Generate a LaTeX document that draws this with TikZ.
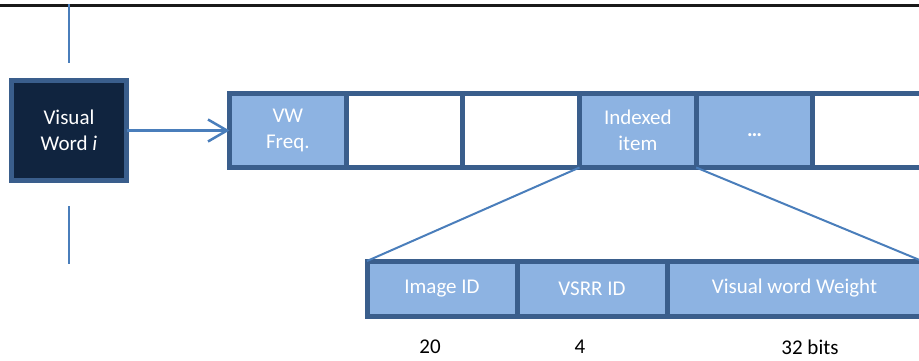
\documentclass[tikz,border=0pt]{standalone}
\usepackage{fontspec}
\setmainfont{Carlito}
\usetikzlibrary{arrows.meta}
\definecolor{bordc}{HTML}{3A5E8C}
\definecolor{cellfill}{HTML}{8DB3E2}
\definecolor{darkfill}{HTML}{10243F}
\definecolor{linec}{HTML}{4A7EBB}
\tikzset{
  x=1pt, y=-1pt,
  cellbox/.style={draw=bordc, line width=5pt, minimum width=116.67pt, minimum height=74pt,
    inner sep=0pt, outer sep=0pt, anchor=north west, align=center, text=white,
    font=\fontsize{21}{25.6}\selectfont},
  filled/.style={fill=cellfill},
  fieldbox/.style={draw=bordc, fill=cellfill, line width=5pt, minimum height=55pt,
    inner sep=0pt, outer sep=0pt, anchor=north west, align=center, text=white,
    font=\fontsize{21}{25.6}\selectfont},
  wordbox/.style={draw=bordc, fill=darkfill, line width=5pt, minimum width=115pt, minimum height=100pt,
    inner sep=0pt, outer sep=0pt, align=center, text=white,
    font=\fontsize{21}{25.6}\selectfont},
  conn/.style={draw=linec, line width=2pt},
  bitlabel/.style={font=\fontsize{21}{24}\selectfont, text=black, inner sep=0pt}
}
\begin{document}
\begin{tikzpicture}
\useasboundingbox (0,0) rectangle (919,360);
\begin{scope}
\clip (0,0) rectangle (919,360);
% top rule
\draw[line width=2.2pt, color=black!90] (0,5.5) -- (919,5.5);
% vertical lines
\coordinate (vt1) at (69,4);
\coordinate (vt2) at (69,63);
\coordinate (vb1) at (69,206);
\coordinate (vb2) at (69,264);
\draw[conn, line width=1.8pt] (vt1) -- (vt2);
\draw[conn, line width=1.8pt] (vb1) -- (vb2);
% visual word box
\node[wordbox] (vw) at (69,130.5) {Visual\\Word \textit{i}};
% top row cells
\node[cellbox, filled] (c1) at (229.5,93.5) {VW\\Freq.};
\node[cellbox] (c2) at (346.17,93.5) {};
\node[cellbox] (c3) at (462.83,93.5) {};
\node[cellbox, filled] (c4) at (579.5,93.5) {Indexed\\item};
\node[cellbox, filled, align=none, text height=12pt, text depth=0pt] (c5) at (696.17,93.5) {\bfseries …};
\node[cellbox] (c6) at (812.83,93.5) {};
% arrow
\draw[conn, line width=2.5pt, -{Straight Barb[length=19pt,width=22pt,line width=2.5pt]}] (vw.east) -- (c1.west);
% bottom fields
\node[fieldbox, minimum width=150pt] (f1) at (367,261) {Image ID};
\node[fieldbox, minimum width=150pt] (f2) at (517,261) {VSRR ID};
\node[fieldbox, minimum width=255pt] (f3) at (667,261) {Visual word Weight};
% zoom connectors
\draw[conn] (c4.south west) -- (f1.north west);
\draw[conn] (c4.south east) -- (f3.north east);
% bit labels
\node[bitlabel] (b1) at (430,347) {20};
\node[bitlabel] (b2) at (580,347) {4};
\node[bitlabel] (b3) at (810,347) {32 bits};
\end{scope}
\end{tikzpicture}
\end{document}
